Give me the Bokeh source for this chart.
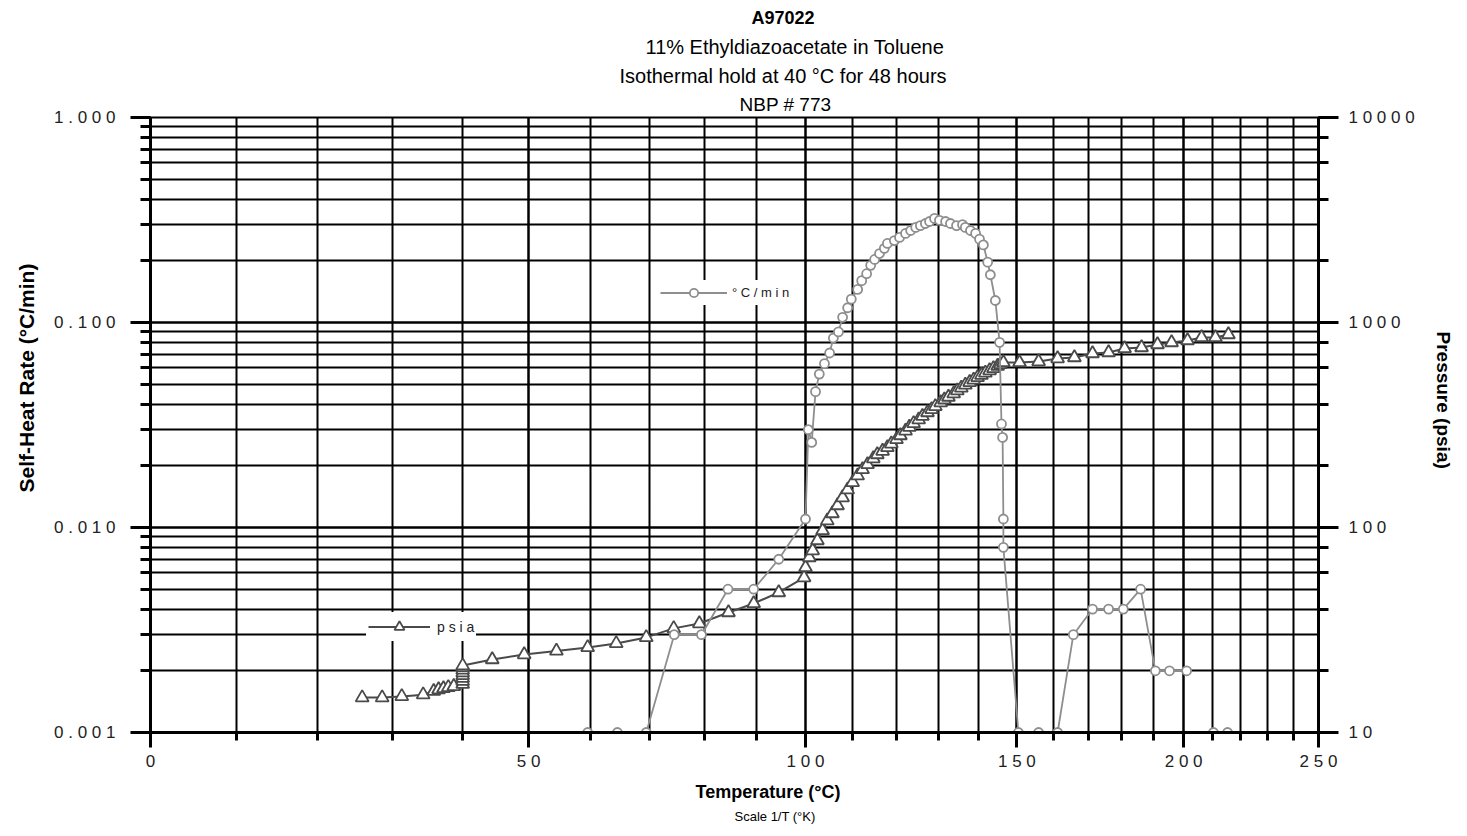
import numpy as np
from bokeh.plotting import figure
from bokeh.models import (Range1d, LogScale, LogAxis, FixedTicker, LogTicker,
                          CustomJSTickFormatter, Title, Legend, LegendItem)
from bokeh.embed import file_html
from bokeh.resources import INLINE

FONT = "Liberation Sans"

# ---------------- data ----------------
title_lines = ["A97022", "11% Ethyldiazoacetate in Toluene",
               "Isothermal hold at 40 °C for 48 hours", "NBP # 773"]
x_label = "Temperature (°C)"
x_sublabel = "Scale 1/T (°K)"
y_label = "Self-Heat Rate (°C/min)"
y2_label = "Pressure (psia)"

x_major_T = [0, 50, 100, 150, 200, 250]
x_minor_T = list(range(0, 251, 10))

# self-heat rate series (°C/min); nan = missing reading (line break)
rate_T = [59.5, 64.5, 69.5, 74.5, 79.5, 84.5, 89.5, 94.5, 100.0, 100.6, 101.3,
          102.1, 102.9, 104.0, 105.1, 105.9, 107.0, 107.9, 109.0, 109.8, 111.2,
          112.1, 113.2, 114.1, 115.0, 116.1, 117.2, 117.9, 119.5, 120.7, 122.1,
          123.3, 124.5, 125.6, 126.8, 127.8, 129.0, 130.2, 131.7, 132.9, 134.4,
          135.9, 136.6, 137.9, 139.2, 140.2, 141.2, 142.3, 143.0, 144.3, 145.4,
          145.9, 146.2, 146.4, 146.4, 150.4, 155.9, 161.2, 165.7, 171.3, 176.1,
          180.6, 186.0, 190.7, 195.3, 201.0, 205.5, 210.2, 215.2]
rate_val = [0.001, 0.001, 0.001, 0.003, 0.003, 0.005, 0.005, 0.007, 0.011, 0.030, 0.026,
            0.046, 0.056, 0.063, 0.071, 0.084, 0.090, 0.106, 0.118, 0.130, 0.145,
            0.160, 0.173, 0.190, 0.203, 0.217, 0.230, 0.243, 0.251, 0.260, 0.272,
            0.281, 0.291, 0.297, 0.304, 0.311, 0.322, 0.315, 0.311, 0.304, 0.297,
            0.300, 0.291, 0.281, 0.272, 0.255, 0.239, 0.197, 0.171, 0.128, 0.080,
            0.032, 0.0275, 0.011, 0.008, 0.001, 0.001, 0.001, 0.003, 0.004, 0.004,
            0.004, 0.005, 0.002, 0.002, 0.002, float("nan"), 0.001, 0.001]

# pressure series (psia)
psia_T = [25.9, 28.6, 31.3, 34.3, 35.8, 36.5, 37.2, 37.9, 38.7, 40.0, 40.0, 40.0,
          40.0, 40.0, 40.0, 40.0, 40.0, 44.4, 49.3, 54.4, 59.5, 64.3, 69.5, 74.4,
          79.1, 84.6, 89.5, 94.5, 99.7, 100.0, 100.8, 101.5, 102.5, 103.6, 104.6,
          105.7, 106.8, 107.9, 109.0, 110.1, 111.2, 112.3, 113.4, 114.7, 115.6,
          116.8, 117.9, 118.8, 120.0, 120.9, 122.1, 123.0, 124.0, 125.2, 126.1,
          127.3, 128.3, 129.2, 130.5, 131.4, 132.4, 133.7, 134.6, 135.6, 136.6,
          137.7, 138.7, 139.7, 140.7, 141.7, 142.8, 143.8, 144.9, 145.6, 146.4,
          150.7, 155.9, 161.2, 166.0, 171.3, 176.1, 181.0, 186.3, 191.4, 196.0,
          201.3, 206.1, 210.9, 215.5]
psia_val = [14.8, 14.8, 15.0, 15.3, 15.9, 16.2, 16.4, 16.6, 16.8, 17.2, 17.8, 18.4,
            19.0, 19.6, 20.2, 20.8, 21.2, 22.7, 24.0, 25.0, 26.0, 27.2, 29.1, 32.2,
            34.0, 38.5, 42.6, 48.2, 57.0, 63.8, 71.4, 77.2, 86.4, 96.7, 108,
            117, 128, 140, 153, 166, 179, 192, 203, 217, 227,
            236, 246, 256, 269, 281, 296, 309, 322, 336, 349,
            364, 377, 390, 407, 420, 433, 450, 465, 480, 496,
            511, 525, 540, 554, 568, 583, 597, 613, 625, 638,
            638, 645, 667, 675, 706, 714, 747, 755, 781, 799,
            817, 845, 845, 874]


def inv_t(T):
    """1/T scale: x coordinate = -1000 / (T[°C] + 273.15)"""
    return -1000.0 / (np.asarray(T, dtype=float) + 273.15)


x0 = float(inv_t(0.0))
x1 = float(inv_t(250.0))

p = figure(width=1467, height=830,
           x_range=Range1d(x0 - 1e-9, x1 + 1e-9),
           y_range=Range1d(0.001, 1.0), y_axis_type="log",
           output_backend="svg", toolbar_location=None,
           min_border_left=150, min_border_right=149,
           min_border_top=117, min_border_bottom=98,
           background_fill_color="white", border_fill_color="white")
p.outline_line_color = "black"
p.outline_line_width = 2

p.extra_y_ranges = {"p": Range1d(10, 10000)}
p.extra_y_scales = {"p": LogScale()}

TICK_FONT_SIZE = "17px"
TICK_COL = "#222222"

# ---- x axis (1/T scale) ----
x_ticker = FixedTicker(ticks=[float(v) for v in inv_t(x_major_T)],
                       minor_ticks=[float(v) for v in inv_t(x_minor_T)])
xa = p.xaxis[0]
xa.ticker = x_ticker
xa.formatter = CustomJSTickFormatter(
    code="const T = Math.round(-1000/tick - 273.15); return String(T).split('').join(' ');")
xa.axis_line_width = 3
xa.major_tick_out = 15
xa.major_tick_in = 0
xa.minor_tick_out = 8
xa.minor_tick_in = 0
xa.major_tick_line_width = 3
xa.minor_tick_line_width = 3
xa.major_label_standoff = 4
xa.major_label_text_font = FONT
xa.major_label_text_font_size = TICK_FONT_SIZE
xa.major_label_text_color = TICK_COL

# ---- left axis ----
ya = p.yaxis[0]
ya.formatter = CustomJSTickFormatter(code="return tick.toFixed(3).split('').join(' ');")
ya.axis_line_width = 3
ya.major_tick_out = 20
ya.major_tick_in = 0
ya.minor_tick_out = 10
ya.minor_tick_in = 0
ya.major_tick_line_width = 3
ya.minor_tick_line_width = 3
ya.major_label_standoff = 15
ya.major_label_text_font = FONT
ya.major_label_text_font_size = TICK_FONT_SIZE
ya.major_label_text_color = TICK_COL

# ---- right axis ----
ra = LogAxis(y_range_name="p", ticker=LogTicker(),
             formatter=CustomJSTickFormatter(
                 code="return String(Math.round(tick)).split('').join(' ');"))
ra.axis_line_width = 3
ra.major_tick_out = 20
ra.major_tick_in = 0
ra.minor_tick_out = 10
ra.minor_tick_in = 0
ra.major_tick_line_width = 3
ra.minor_tick_line_width = 3
ra.major_label_standoff = 10
ra.major_label_text_font = FONT
ra.major_label_text_font_size = TICK_FONT_SIZE
ra.major_label_text_color = TICK_COL
p.add_layout(ra, "right")

# ---- grids ----
p.xgrid.ticker = x_ticker
p.xgrid.grid_line_color = "black"
p.xgrid.grid_line_width = 2
p.xgrid.minor_grid_line_color = "black"
p.xgrid.minor_grid_line_width = 2
p.ygrid.grid_line_color = "black"
p.ygrid.grid_line_width = 2
p.ygrid.minor_grid_line_color = "black"
p.ygrid.minor_grid_line_width = 2

# ---- series ----
PS_COL = "#4a4a4a"
RT_COL = "#8e8e8e"

ps_line = p.line(inv_t(psia_T), psia_val, y_range_name="p",
                 line_color=PS_COL, line_width=2)
ps_pts = p.scatter(inv_t(psia_T), psia_val, y_range_name="p", marker="triangle",
                   size=13, line_color=PS_COL, line_width=1.8, fill_color="white")

rt_line = p.line(inv_t(rate_T), rate_val, line_color=RT_COL, line_width=1.8)
rt_pts = p.scatter(inv_t(rate_T), rate_val, marker="circle", size=9,
                   line_color=RT_COL, line_width=1.8, fill_color="white")

# ---- legends ----
leg1 = Legend(items=[LegendItem(label="° C / m i n", renderers=[rt_line, rt_pts])],
              location=(508, 427), orientation="vertical",
              glyph_width=67, glyph_height=21, padding=2, margin=0, spacing=0,
              label_standoff=5, label_text_font=FONT, label_text_font_size="13px",
              label_text_color=TICK_COL,
              border_line_alpha=0, background_fill_color="white", background_fill_alpha=1)
leg2 = Legend(items=[LegendItem(label="p s i a", renderers=[ps_line, ps_pts])],
              location=(216, 91), orientation="vertical",
              glyph_width=62, glyph_height=25, padding=2, margin=0, spacing=0,
              label_standoff=7, label_text_font=FONT, label_text_font_size="14px",
              label_text_color=TICK_COL,
              border_line_alpha=0, background_fill_color="white", background_fill_alpha=1)
p.add_layout(leg1)
p.add_layout(leg2)


# ---- texts as titles in the side panels ----
def mk_title(txt, size, offset, bold=False, standoff=6, valign="bottom"):
    return Title(text=txt, align="left", offset=offset, standoff=standoff,
                 vertical_align=valign, text_font=FONT, text_font_size=size,
                 text_font_style="bold" if bold else "normal", text_color="black")

# above: first added = closest to the plot frame
p.add_layout(mk_title(title_lines[3], "19px", 589, standoff=5), "above")
p.add_layout(mk_title(title_lines[2], "20px", 469, standoff=5), "above")
p.add_layout(mk_title(title_lines[1], "20px", 495, standoff=5), "above")
p.add_layout(mk_title(title_lines[0], "18px", 601, bold=True, standoff=4, valign="top"), "above")

# below the x axis
p.add_layout(mk_title(x_label, "18px", 545, bold=True, standoff=12), "below")
p.add_layout(mk_title(x_sublabel, "13px", 584, standoff=2, valign="top"), "below")

# side titles
p.add_layout(mk_title(y_label, "21px", 240, bold=True, standoff=24, valign="top"), "left")
p.add_layout(mk_title(y2_label, "19px", 214, bold=True, standoff=26, valign="top"), "right")

open("out.html", "w").write(file_html(p, INLINE))
